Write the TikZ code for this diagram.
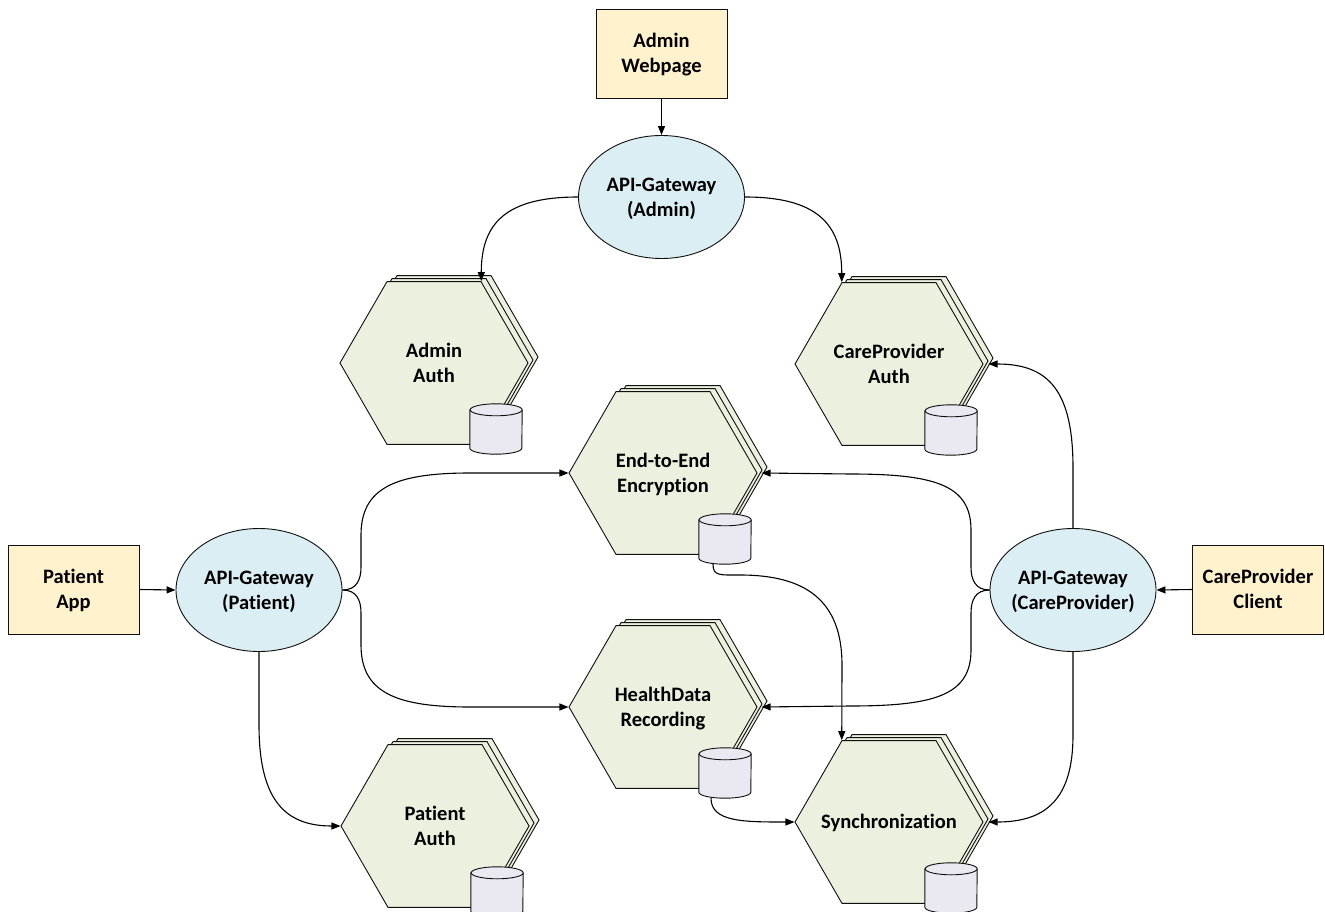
\documentclass[tikz,border=0pt]{standalone}
\usepackage{fontspec}
\setmainfont[Ligatures=NoCommon]{Carlito}
\usetikzlibrary{shapes.geometric, arrows.meta}

\definecolor{clientfill}{RGB}{255,242,204}
\definecolor{gatefill}{RGB}{218,238,243}
\definecolor{svcfill}{RGB}{235,241,222}
\definecolor{dbfill}{RGB}{234,232,240}
\definecolor{ink}{RGB}{15,15,15}

% one label line of zero size, lowered so the capitals sit on the shape's centre
\newcommand\zw[1]{\makebox[0pt]{\raisebox{-6.6pt}[0pt][0pt]{#1}}}

\tikzset{
  labeltext/.style={font=\fontsize{20.5}{25}\selectfont\bfseries, align=center, text=black},
  client/.style={labeltext, rectangle, draw=ink, fill=clientfill, line width=0.9pt,
    minimum width=131pt, minimum height=89pt, inner sep=0pt},
  gateway/.style={labeltext, ellipse, draw=ink, fill=gatefill, line width=0.9pt,
    minimum width=166pt, minimum height=123pt, inner sep=0pt},
  hexa/.style={regular polygon, regular polygon sides=6, minimum size=188pt,
    inner sep=0pt, draw=ink, fill=svcfill, line width=0.9pt},
  service/.style={hexa, labeltext},
  dbbox/.style={rectangle, minimum width=52pt, minimum height=50pt, inner sep=0pt},
  dbline/.style={draw=ink, line width=0.9pt},
  link/.style={draw=black, line width=1.1pt, -{Triangle[length=9pt,width=7pt]}},
}

% database cylinder sitting at the lower right of a service
\newcommand\database[2]{%
  \node[dbbox, xshift=62pt, yshift=-66pt] (#1) at (#2) {};
  \filldraw[dbline, fill=dbfill]
    ([yshift=-6pt]#1.north west) -- ([yshift=6pt]#1.south west)
    arc[start angle=180, end angle=360, x radius=26pt, y radius=6pt]
    -- ([yshift=-6pt]#1.north east)
    arc[start angle=0, end angle=180, x radius=26pt, y radius=6pt] -- cycle;
  \draw[dbline] ([yshift=-6pt]#1.north east)
    arc[start angle=0, end angle=-180, x radius=26pt, y radius=6pt];
}

% a service drawn as a stack of three hexagons with its own database
\newcommand\service[4]{%
  \node[hexa, xshift=10pt, yshift=6pt] (#1-back) at (#2) {};
  \node[hexa, xshift=5pt, yshift=3pt] (#1-mid) at (#2) {};
  \node[service] (#1) at (#2) {#4};
  \database{#3}{#1}%
}

\begin{document}
\begin{tikzpicture}[x=1pt, y=1pt]
\useasboundingbox (0,0) rectangle (1325,-912);
\clip (0,0) rectangle (1325,-912);

% clients
\node[client] (aw) at (661.5,-53.5) {\zw{Admin}\\\zw{Webpage}};
\node[client] (pa) at (73.5,-589.5) {\zw{Patient}\\\zw{App}};
\node[client] (cc) at (1258,-589.5) {\zw{CareProvider}\\\zw{Client}};

% gateways
\node[gateway] (ag) at (661.5,-197) {\zw{API-Gateway}\\\zw{(Admin)}};
\node[gateway] (pg) at (259,-590) {\zw{API-Gateway}\\\zw{(Patient)}};
\node[gateway] (cg) at (1073,-590) {\zw{API-Gateway}\\\zw{(CareProvider)}};

% services
\service{aa}{434,-363}{aadb}{\zw{Admin}\\\zw{Auth}}
\service{ca}{889,-364}{cadb}{\zw{CareProvider}\\\zw{Auth}}
\service{ee}{663,-473}{eedb}{\zw{End-to-End}\\\zw{Encryption}}
\service{hd}{663,-707}{hddb}{\zw{HealthData}\\\zw{Recording}}
\service{pt}{435,-826}{ptdb}{\zw{Patient}\\\zw{Auth}}
\service{sy}{889,-822}{sydb}{\zw{Synchronization}}

% client to gateway
\draw[link] (aw.south) -- (ag.north);
\draw[link] (pa.east) -- (pg.west);
\draw[link] (cc.west) -- (cg.east);

% admin gateway
\draw[link] (ag.west) .. controls +(-72,0) and +(0,58) .. (aa.60);
\draw[link] (ag.east) .. controls +(72,0) and +(0,58) .. (ca.120);

% patient gateway
\draw[link] (pg.east) .. controls +(14,0) and (361,-580) .. (361,-567)
  -- (361,-535) .. controls (361,-488) and (395,-473) .. (470,-473) -- (ee.180);
\draw[link] (pg.east) .. controls +(14,0) and (361,-600) .. (361,-613)
  -- (361,-645) .. controls (361,-692) and (395,-707) .. (470,-707) -- (hd.180);
\draw[link] (pg.south) -- (259,-725) .. controls (259,-800) and (285,-826) .. (pt.180);

% care provider gateway
\draw[link] (cg.west) .. controls +(-14,0) and (971,-580) .. (971,-567)
  -- (971,-530) .. controls (971,-485) and (935,-474) .. (850,-474) -- ([xshift=4pt]ee.0);
\draw[link] (cg.west) .. controls +(-14,0) and (971,-600) .. (971,-613)
  -- (971,-650) .. controls (971,-695) and (935,-706) .. (850,-706) -- ([xshift=4pt]hd.0);
\draw[link] (cg.north) -- (1073,-468) .. controls (1073,-390) and (1048,-364) .. ([xshift=5pt]ca.0);
\draw[link] (cg.south) -- (1073,-735) .. controls (1073,-800) and (1045,-822) .. ([xshift=5pt]sy.0);

% data flows into synchronization
\draw[link] ([xshift=-12pt]eedb.south) .. controls +(0,-12) and +(-20,0) .. (740,-575)
  .. controls (805,-575) and (842,-600) .. (842,-665) -- (sy.120);
\draw[link] ([xshift=-14pt]hddb.south) .. controls +(0,-24) and +(-50,0) .. (sy.180);
\end{tikzpicture}
\end{document}
